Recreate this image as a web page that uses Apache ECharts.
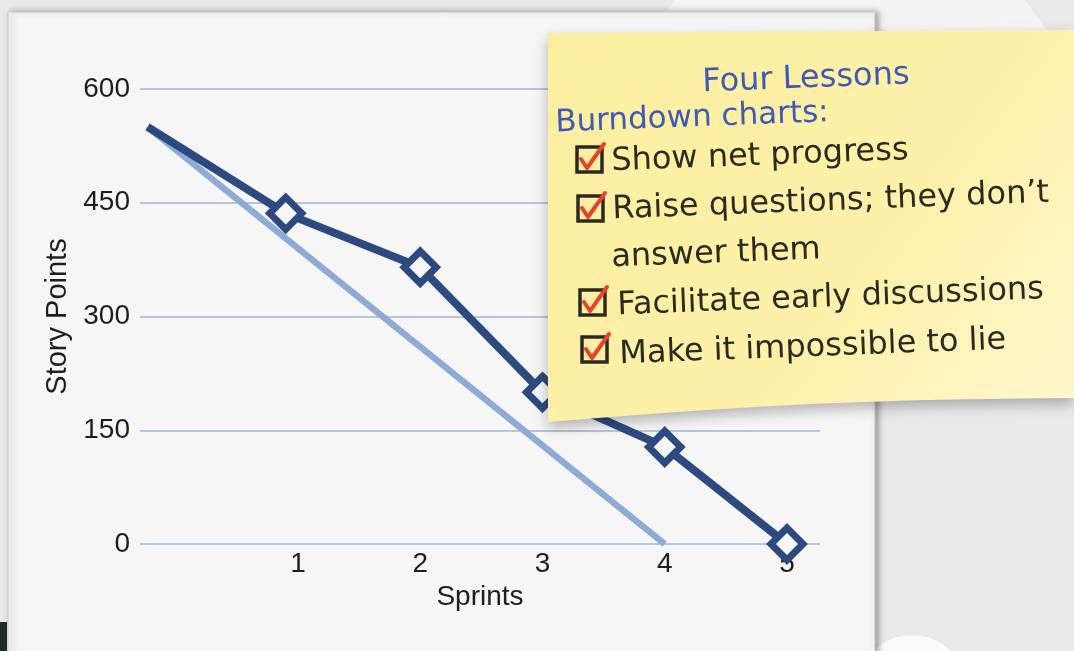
<!DOCTYPE html>
<html>
<head>
<meta charset="utf-8">
<script src="https://cdn.jsdelivr.net/npm/echarts@6/dist/echarts.min.js"></script>
<style>
  html, body { margin: 0; padding: 0; background: #e9e9e9; }
  #chart { width: 1074px; height: 651px; }
</style>
</head>
<body>
<div id="chart"></div>
<script>
  // burndown data
  var sprintX = [-0.23, 0.9, 2, 3, 4, 5];
  var actualPoints = [550, 436, 365, 200, 128, 0];
  var idealX = [-0.23, 4];
  var idealPoints = [550, 0];
  var sprintLabels = [1, 2, 3, 4, 5];

  var noteTitle = "Four Lessons";
  var noteSubtitle = "Burndown charts:";
  var noteLines = [
    "Show net progress",
    "Raise questions; they don\u2019t",
    "answer them",
    "Facilitate early discussions",
    "Make it impossible to lie"
  ];
  var noteChecked = [true, true, false, true, true];

  var handFont = "'Comic Sans MS', 'DejaVu Sans', sans-serif";
  var axisFont = "'Liberation Sans', Arial, sans-serif";
  var tilt = 0.038;

  var chart = echarts.init(document.getElementById("chart"));

  function actualData() {
    return sprintX.map(function (x, i) {
      return { value: [x, actualPoints[i]], symbol: i === 0 ? "none" : "diamond" };
    });
  }

  function idealData() {
    return idealX.map(function (x, i) {
      return [x, idealPoints[i]];
    });
  }

  // outline of the note, bottom edge slightly curled
  function noteOutline() {
    var pts = [[548, 33], [1074, 30], [1074, 398]];
    for (var t = 1; t < 10; t++) {
      var u = t / 10;
      var x = 1074 - u * (1074 - 548);
      var y = 398 + u * 24 - Math.sin(u * Math.PI) * 6;
      pts.push([x, y]);
    }
    pts.push([548, 422]);
    return pts;
  }

  function noteGraphics() {
    var els = [];
    els.push({
      type: "polygon",
      z: 50,
      shape: { points: noteOutline() },
      style: {
        fill: {
          type: "linear", x: 0, y: 0, x2: 1, y2: 1,
          colorStops: [
            { offset: 0, color: "#fcee9f" },
            { offset: 0.6, color: "#fdf1aa" },
            { offset: 1, color: "#fff7cf" }
          ]
        },
        shadowBlur: 14,
        shadowOffsetY: 6,
        shadowColor: "rgba(0,0,0,0.28)"
      }
    });
    els.push({
      type: "text",
      z: 60,
      x: 703, y: 99, rotation: tilt,
      style: { text: noteTitle, font: "32px " + handFont, fill: "#3e59b6", verticalAlign: "bottom" }
    });
    els.push({
      type: "text",
      z: 60,
      x: 556, y: 139, rotation: tilt,
      style: { text: noteSubtitle, font: "31px " + handFont, fill: "#3e59b6", verticalAlign: "bottom" }
    });
    var rows = [
      { x: 612, y: 178, bx: 577, by: 147 },
      { x: 613, y: 226, bx: 578, by: 196 },
      { x: 612, y: 274, bx: 0, by: 0 },
      { x: 618, y: 322, bx: 580, by: 290 },
      { x: 620, y: 371, bx: 582, by: 337 }
    ];
    noteLines.forEach(function (line, i) {
      var r = rows[i];
      els.push({
        type: "text",
        z: 60,
        x: r.x, y: r.y, rotation: tilt,
        style: { text: line, font: "32px " + handFont, fill: "#2b2a1f", verticalAlign: "bottom" }
      });
      if (noteChecked[i]) {
        els.push({
          type: "rect",
          z: 60,
          shape: { x: r.bx, y: r.by, width: 25, height: 25 },
          style: { fill: "none", stroke: "#2b2a1f", lineWidth: 3.5 }
        });
        els.push({
          type: "polyline",
          z: 61,
          shape: { points: [[r.bx + 4, r.by + 12], [r.bx + 10, r.by + 21], [r.bx + 27, r.by - 3]] },
          style: { fill: "none", stroke: "#e5432b", lineWidth: 4, lineJoin: "round", lineCap: "round" }
        });
      }
    });
    return els;
  }

  var option = {
    backgroundColor: "#e9e9e9",
    animation: false,
    graphic: [
      {
        type: "circle",
        z: -20,
        shape: { cx: 850, cy: 150, r: 230 },
        style: { fill: "rgba(255,255,255,0.5)" }
      },
      {
        type: "circle",
        z: -20,
        shape: { cx: 912, cy: 690, r: 55 },
        style: { fill: "rgba(255,255,255,0.75)" }
      },
      {
        type: "rect",
        z: -10,
        shape: { x: 8, y: 12, width: 867, height: 660 },
        style: {
          fill: "#f6f6f6",
          stroke: "#c9c9c9",
          lineWidth: 1,
          shadowBlur: 6,
          shadowOffsetX: 3,
          shadowColor: "rgba(0,0,0,0.35)"
        }
      },
      {
        type: "rect",
        z: -5,
        shape: { x: 0, y: 622, width: 7, height: 29 },
        style: { fill: "#1d2a2c" }
      }
    ].concat(noteGraphics()),
    grid: { left: 140, right: 254, top: 89, bottom: 107 },
    xAxis: {
      type: "value",
      min: -0.292,
      max: 5.27,
      name: "Sprints",
      nameLocation: "middle",
      nameGap: 34,
      nameTextStyle: { fontFamily: axisFont, fontSize: 28, color: "#1e1e1e" },
      axisLine: { show: false },
      axisTick: { show: false },
      splitLine: { show: false },
      axisLabel: {
        customValues: sprintLabels,
        fontFamily: axisFont,
        fontSize: 28,
        color: "#1e1e1e",
        margin: 6
      }
    },
    yAxis: {
      type: "value",
      min: 0,
      max: 600,
      interval: 150,
      name: "Story Points",
      nameLocation: "middle",
      nameGap: 68,
      nameTextStyle: { fontFamily: axisFont, fontSize: 29, color: "#1e1e1e" },
      axisLine: { show: false },
      axisTick: { show: false },
      axisLabel: { fontFamily: axisFont, fontSize: 28, color: "#1e1e1e", margin: 10 },
      splitLine: { lineStyle: { color: "#b8c3dd", width: 2 } }
    },
    series: [
      {
        name: "Ideal",
        type: "line",
        z: 2,
        data: idealData(),
        symbol: "none",
        lineStyle: { color: "#8eabd7", width: 6.5 }
      },
      {
        name: "Actual",
        type: "line",
        z: 3,
        data: actualData(),
        symbolSize: 32,
        lineStyle: { color: "#2d4a80", width: 8 },
        itemStyle: { color: "#f6f6f6", borderColor: "#2d4a80", borderWidth: 7 }
      }
    ]
  };

  chart.setOption(option);
</script>
</body>
</html>
